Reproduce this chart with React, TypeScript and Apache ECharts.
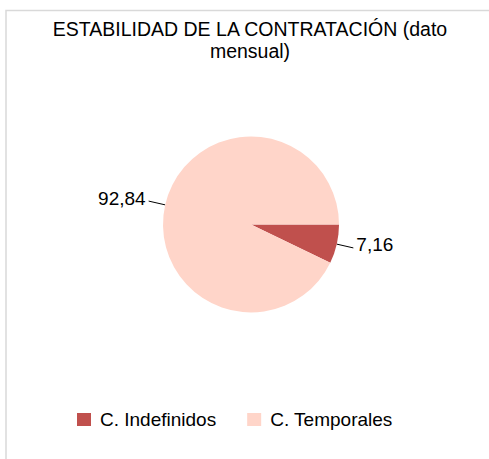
import React, { useEffect, useRef } from "react";
import * as echarts from "echarts";

const titleText = "ESTABILIDAD DE LA CONTRATACIÓN (dato\nmensual)";
const categories = ["C. Indefinidos", "C. Temporales"];
const values = [7.16, 92.84];
const colors = ["#C0504D", "#FFD5C9"];

export default function App() {
  const ref = useRef<HTMLDivElement>(null);
  useEffect(() => {
    if (!ref.current) return;
    const chart = echarts.init(ref.current, null, { renderer: "svg" });
    const font = "Liberation Sans, Arial, sans-serif";
    chart.setOption({
      animation: false,
      backgroundColor: "#ffffff",
      title: {
        text: titleText,
        left: 245,
        textAlign: "center",
        top: 13,
        textStyle: {
          fontFamily: font,
          fontSize: 19.5,
          fontWeight: "normal",
          color: "#000000",
          lineHeight: 22,
        },
      },
      graphic: [
        {
          type: "rect",
          shape: { x: 6, y: 10.5, width: 600, height: 600 },
          style: { fill: "none", stroke: "#d9d9d9", lineWidth: 1.5 },
          silent: true,
        },
      ],
      legend: {
        data: categories,
        left: 72,
        top: 405,
        icon: "rect",
        itemWidth: 14,
        itemHeight: 13,
        itemGap: 31,
        textStyle: {
          fontFamily: font,
          fontSize: 19,
          color: "#000000",
          padding: [0, 0, 0, 4],
        },
      },
      series: [
        {
          type: "pie",
          center: [251, 224.5],
          radius: 88,
          startAngle: 0,
          clockwise: true,
          data: categories.map((c, i) => ({
            name: c,
            value: values[i],
            itemStyle: { color: colors[i] },
          })),
          label: {
            show: true,
            formatter: (p: any) => String(p.value).replace(".", ","),
            fontFamily: font,
            fontSize: 19,
            color: "#000000",
            distanceToLabelLine: 3,
          },
          labelLayout: { dy: -3 },
          labelLine: {
            show: true,
            length: 17,
            length2: 0,
            lineStyle: { color: "#000000", width: 1 },
          },
          emphasis: { disabled: true },
        },
      ],
    });
    return () => chart.dispose();
  }, []);
  return (
    <div
      ref={ref}
      style={{ position: "fixed", left: 0, top: 0, width: 489, height: 459 }}
    />
  );
}
